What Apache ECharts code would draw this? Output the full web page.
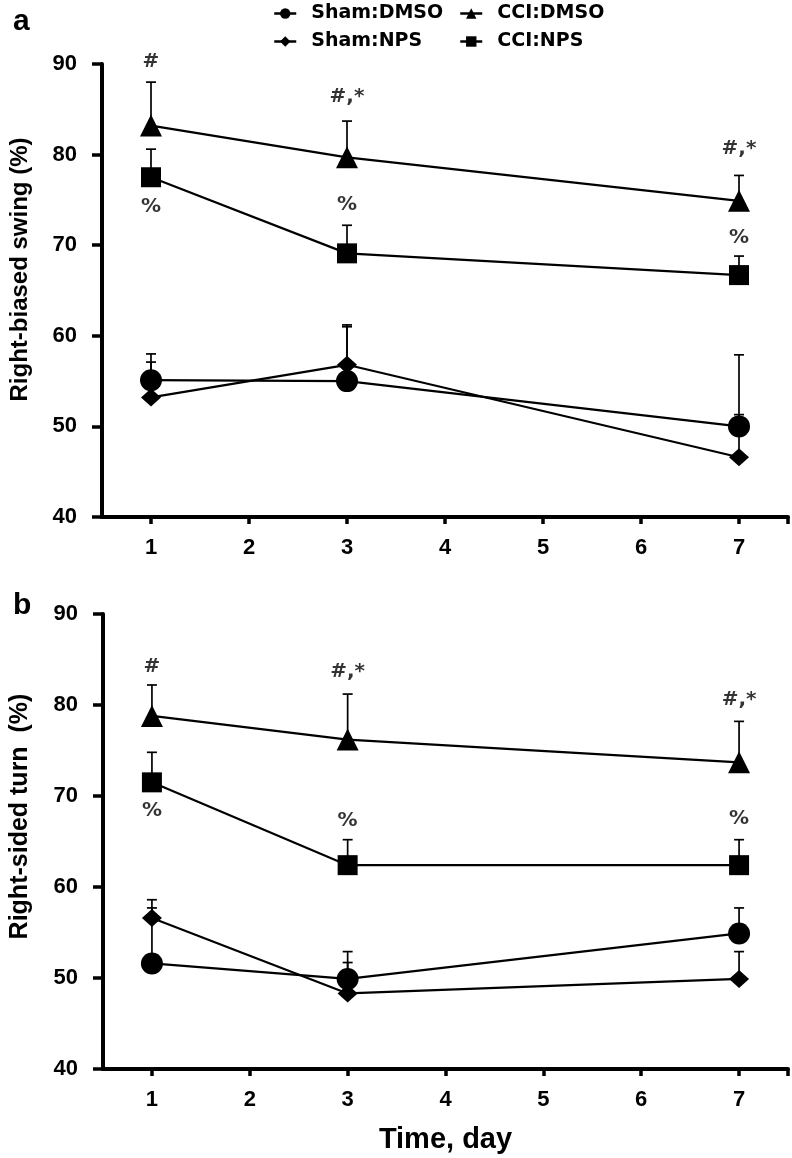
<!DOCTYPE html>
<html><head><meta charset="utf-8">
<script src="https://cdn.jsdelivr.net/npm/echarts@6/dist/echarts.min.js"></script>
<style>html,body{margin:0;padding:0;background:#fff}#c{width:792px;height:1158px}</style>
</head><body><div id="c"></div>
<script>
// ---- data ----
const days = [1, 3, 7];
const xTickValues = [1, 2, 3, 4, 5, 6, 7];
const groups = ['Sham:DMSO', 'Sham:NPS', 'CCI:DMSO', 'CCI:NPS'];
const groupSymbols = ['circle', 'diamond', 'triangle', 'rect'];

// Panel a: Right-biased swing (%), means and upper error-bar ends
const aShamDMSO = [55.1, 55.0, 50.0];
const aShamNPS  = [53.2, 56.8, 46.6];
const aCCIDMSO  = [83.2, 79.7, 74.9];
const aCCINPS   = [77.5, 69.1, 66.7];
const aShamDMSOTop = [57.1, 61.0, 57.9];
const aShamNPSTop  = [58.0, 61.2, 51.3];
const aCCIDMSOTop  = [88.0, 83.7, 77.7];
const aCCINPSTop   = [80.6, 72.2, 68.8];

// Panel b: Right-sided turn (%)
const bShamDMSO = [51.6, 49.9, 54.9];
const bShamNPS  = [56.6, 48.3, 49.9];
const bCCIDMSO  = [78.8, 76.2, 73.7];
const bCCINPS   = [71.5, 62.4, 62.4];
const bShamDMSOTop = [57.7, 52.9, 57.7];
const bShamNPSTop  = [58.6, 51.7, 52.9];
const bCCIDMSOTop  = [82.2, 81.2, 78.2];
const bCCINPSTop   = [74.8, 65.2, 65.2];

// significance marks
const aMarkDays = [1, 3, 7, 1, 3, 7];
const aMarkY    = [90.2, 86.4, 80.6, 74.2, 74.5, 70.8];
const aMarkText = ['#', '#,*', '#,*', '%', '%', '%'];
const bMarkDays = [1, 3, 7, 1, 3, 7];
const bMarkY    = [84.2, 83.6, 80.6, 68.4, 67.3, 67.5];
const bMarkText = ['#', '#,*', '#,*', '%', '%', '%'];

const yMin = 40, yMax = 90, yInterval = 10;
const xMin = 0.5, xMax = 7.5;

// ---- build ----
const aMeans = [aShamDMSO, aShamNPS, aCCIDMSO, aCCINPS];
const aTops = [aShamDMSOTop, aShamNPSTop, aCCIDMSOTop, aCCINPSTop];
const bMeans = [bShamDMSO, bShamNPS, bCCIDMSO, bCCINPS];
const bTops = [bShamDMSOTop, bShamNPSTop, bCCIDMSOTop, bCCINPSTop];
const symbolSizes = [22, [20, 18], 22, 20];

const numFont = 'Liberation Sans, Arial, sans-serif';
const markFont = 'DejaVu Sans, sans-serif';

function errSeries(means, tops, gi) {
  const data = [];
  means.forEach((m, si) => m.forEach((v, di) => data.push([days[di], v, tops[si][di]])));
  return {
    type: 'custom', xAxisIndex: gi, yAxisIndex: gi, z: 1, silent: true,
    data: data,
    renderItem: function (params, api) {
      const p0 = api.coord([api.value(0), api.value(1)]);
      const p1 = api.coord([api.value(0), api.value(2)]);
      const st = { stroke: '#000', lineWidth: 1.7 };
      return { type: 'group', children: [
        { type: 'line', shape: { x1: p0[0], y1: p0[1], x2: p1[0], y2: p1[1] }, style: st },
        { type: 'line', shape: { x1: p1[0] - 5, y1: p1[1], x2: p1[0] + 5, y2: p1[1] }, style: st }
      ]};
    }
  };
}

function lineSeries(means, gi) {
  return means.map((m, si) => ({
    type: 'line', name: groups[si], xAxisIndex: gi, yAxisIndex: gi, z: 3,
    data: m.map((v, di) => [days[di], v]),
    symbol: groupSymbols[si], symbolSize: symbolSizes[si], showSymbol: true,
    lineStyle: { color: '#000', width: 2.2 },
    itemStyle: { color: '#000', borderWidth: 0 },
    emphasis: { disabled: true }, animation: false
  }));
}

function markSeries(mDays, mY, mText, gi) {
  return {
    type: 'scatter', xAxisIndex: gi, yAxisIndex: gi, z: 5, silent: true, clip: false,
    symbolSize: 0,
    data: mDays.map((d, i) => ({ value: [d, mY[i]], label: { formatter: mText[i] } })),
    label: { show: true, position: 'inside', color: '#000', fontFamily: markFont,
             fontWeight: 'bold', fontSize: 20 }
  };
}

function xAxis(gi, withName) {
  const ax = {
    type: 'value', gridIndex: gi, min: xMin, max: xMax,
    axisLine: { show: true, lineStyle: { color: '#000', width: 4 } },
    axisTick: { show: true, length: 7, lineStyle: { color: '#000', width: 3.5 },
                customValues: xTickValues.concat([xMax]) },
    axisLabel: { show: true, customValues: xTickValues, margin: 20, color: '#000',
                 fontFamily: numFont, fontWeight: 'bold', fontSize: 22 },
    splitLine: { show: false }
  };
  if (withName) {
    ax.name = 'Time, day';
    ax.nameLocation = 'middle';
    ax.nameGap = 56;
    ax.nameTextStyle = { color: '#000', fontFamily: numFont, fontWeight: 'bold', fontSize: 29 };
  }
  return ax;
}

function yAxis(gi, name, pad, fs) {
  return {
    type: 'value', gridIndex: gi, min: yMin, max: yMax, interval: yInterval,
    name: name, nameLocation: 'middle', nameGap: 70,
    nameTextStyle: { color: '#000', fontFamily: numFont, fontWeight: 'bold', fontSize: fs,
                     padding: pad },
    axisLine: { show: true, lineStyle: { color: '#000', width: 4 } },
    axisTick: { show: true, length: 10, lineStyle: { color: '#000', width: 3.5 } },
    axisLabel: { margin: 25, color: '#000', fontFamily: numFont, fontWeight: 'bold', fontSize: 22 },
    splitLine: { show: false }
  };
}

const legendBase = {
  orient: 'horizontal', padding: 0, itemWidth: 22, itemHeight: 13, selectedMode: false,
  textStyle: { color: '#000', fontFamily: markFont, fontWeight: 'bold', fontSize: 19,
               padding: [0, 0, 0, 10] },
  lineStyle: { width: 2.5 }
};
const legendPos = [[273, 4], [273, 32], [459, 4], [459, 32]];

const option = {
  backgroundColor: '#fff',
  animation: false,
  title: [
    { text: 'a', left: 8, top: 2, textStyle: { color: '#000', fontFamily: numFont, fontWeight: 'bold', fontSize: 30 } },
    { text: 'b', left: 8, top: 586, textStyle: { color: '#000', fontFamily: numFont, fontWeight: 'bold', fontSize: 30 } }
  ],
  legend: groups.map((g, i) => Object.assign({}, legendBase, {
    data: [g], left: legendPos[i][0], top: legendPos[i][1]
  })),
  grid: [
    { left: 98, top: 64, right: 4, height: 453 },
    { left: 98, top: 614, right: 4, height: 455 }
  ],
  xAxis: [xAxis(0, false), xAxis(1, true)],
  yAxis: [yAxis(0, 'Right-biased swing (%)', [0, 0, 0, 42], 24),
          yAxis(1, 'Right-sided turn  (%)', [0, 0, 0, 50], 25)],
  series: [
    errSeries(aMeans, aTops, 0),
    errSeries(bMeans, bTops, 1),
    ...lineSeries(aMeans, 0),
    ...lineSeries(bMeans, 1),
    markSeries(aMarkDays, aMarkY, aMarkText, 0),
    markSeries(bMarkDays, bMarkY, bMarkText, 1)
  ]
};

const chart = echarts.init(document.getElementById('c'), null, { renderer: 'canvas' });
chart.setOption(option);
</script>
</body></html>
